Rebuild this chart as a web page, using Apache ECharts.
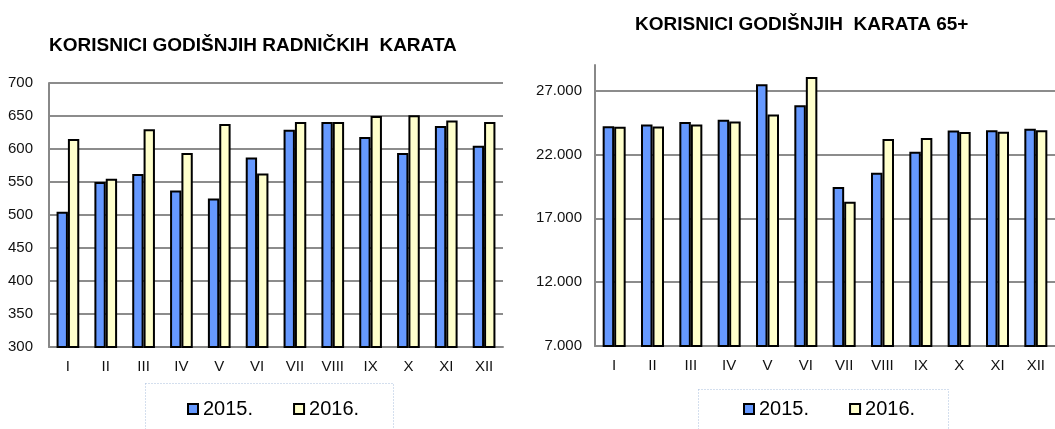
<!DOCTYPE html>
<html>
<head>
<meta charset="utf-8">
<script src="https://cdn.jsdelivr.net/npm/echarts@6/dist/echarts.min.js"></script>
<style>
  html, body { margin: 0; padding: 0; background: #fff; }
  #chart { width: 1055px; height: 429px; }
</style>
</head>
<body>
<div id="chart"></div>
<script>
// --- data ---
const mjeseci = ['I', 'II', 'III', 'IV', 'V', 'VI', 'VII', 'VIII', 'IX', 'X', 'XI', 'XII'];
const godine = ['2015.', '2016.'];

// radničke karte
const radnicke2015 = [505, 550, 562, 537, 525, 587, 629, 641, 618, 594, 635, 605];
const radnicke2016 = [615, 555, 630, 594, 638, 563, 641, 641, 650, 651, 643, 641];

// karte 65+
const penzioneri2015 = [24210, 24340, 24530, 24710, 27500, 25850, 19450, 20570, 22210, 23880, 23900, 24000];
const penzioneri2016 = [24160, 24190, 24340, 24580, 25120, 28070, 18300, 23200, 23280, 23750, 23770, 23900];

const plava = '#6699ff';
const zuta = '#ffffcc';
const font = 'Liberation Sans, Arial, sans-serif';

function formatTacka(v) {
  return String(v).replace(/\B(?=(\d{3})+(?!\d))/g, '.');
}

const chart = echarts.init(document.getElementById('chart'), null, { renderer: 'canvas' });

function xOsa(gridIndex) {
  return {
    type: 'category',
    gridIndex: gridIndex,
    data: mjeseci,
    axisTick: { show: false },
    axisLine: { lineStyle: { color: '#888', width: 2 } },
    axisLabel: { color: '#111', fontSize: 15, fontFamily: font, margin: 12 }
  };
}

function bar(name, data, color, idx) {
  return {
    name: name,
    type: 'bar',
    xAxisIndex: idx,
    yAxisIndex: idx,
    data: data,
    barGap: '0%',
    barCategoryGap: '40%',
    itemStyle: { color: color, borderColor: '#000', borderWidth: 2 },
    emphasis: { disabled: true }
  };
}

function legenda(left) {
  return {
    data: godine,
    left: left,
    top: 399,
    padding: 0,
    icon: 'rect',
    itemWidth: 10,
    itemHeight: 10,
    itemGap: 40,
    textStyle: { color: '#000', fontSize: 20, fontFamily: font }
  };
}

const option = {
  animation: false,
  textStyle: { fontFamily: font },
  title: [
    {
      text: 'KORISNICI GODIŠNJIH RADNIČKIH  KARATA',
      left: 49, top: 36, padding: 0,
      textStyle: { fontSize: 19, fontWeight: 'bold', color: '#000', fontFamily: font }
    },
    {
      text: 'KORISNICI GODIŠNJIH  KARATA 65+',
      left: 635, top: 15, padding: 0,
      textStyle: { fontSize: 19, fontWeight: 'bold', color: '#000', fontFamily: font }
    }
  ],
  legend: [legenda(187), legenda(743)],
  grid: [
    { left: 49, top: 83, width: 454, height: 264 },
    { left: 595, top: 65, right: -5, height: 281 }
  ],
  xAxis: [xOsa(0), xOsa(1)],
  yAxis: [
    {
      type: 'value',
      gridIndex: 0,
      min: 300, max: 700, interval: 50,
      axisLine: { show: true, lineStyle: { color: '#888', width: 2 } },
      axisTick: { show: false },
      axisLabel: { color: '#111', fontSize: 15, fontFamily: font, margin: 16 },
      splitLine: { lineStyle: { color: '#8c8c8c', width: 2 } }
    },
    {
      type: 'value',
      gridIndex: 1,
      min: 7000, max: 29000, interval: 5000,
      axisLine: { show: true, lineStyle: { color: '#888', width: 2 } },
      axisTick: { show: false },
      axisLabel: {
        color: '#111', fontSize: 15, fontFamily: font, margin: 13,
        showMaxLabel: false,
        formatter: formatTacka
      },
      splitLine: { showMaxLine: false, lineStyle: { color: '#8c8c8c', width: 2 } }
    }
  ],
  graphic: [
    {
      type: 'rect', left: 143, top: 381, silent: true,
      shape: { width: 248, height: 60 },
      style: { fill: 'none', stroke: '#a9bfdc', lineWidth: 1, lineDash: [1, 2] }
    },
    {
      type: 'rect', left: 696, top: 387, silent: true,
      shape: { width: 250, height: 55 },
      style: { fill: 'none', stroke: '#a9bfdc', lineWidth: 1, lineDash: [1, 2] }
    }
  ],
  series: [
    bar(godine[0], radnicke2015, plava, 0),
    bar(godine[1], radnicke2016, zuta, 0),
    bar(godine[0], penzioneri2015, plava, 1),
    bar(godine[1], penzioneri2016, zuta, 1)
  ]
};

chart.setOption(option);
</script>
</body>
</html>
